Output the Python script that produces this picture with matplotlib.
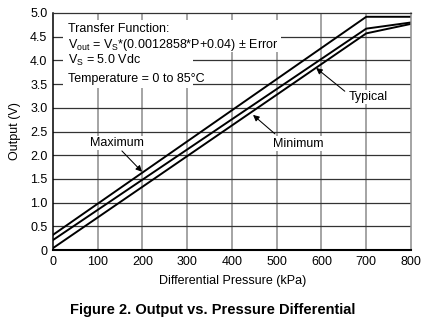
import numpy as np
import matplotlib.pyplot as plt
from matplotlib.patches import Rectangle

plt.rcParams['font.family'] = ['Liberation Sans Narrow', 'Liberation Sans', 'DejaVu Sans']
plt.rcParams['mathtext.fontset'] = 'custom'
plt.rcParams['mathtext.rm'] = 'Liberation Sans'
plt.rcParams['mathtext.it'] = 'Liberation Sans'

# output curves (kPa, V), transfer function plus/minus error band
pressure = [0, 700, 800]
v_max = [0.32, 4.92, 4.92]
v_typ = [0.21, 4.67, 4.80]
v_min = [0.04, 4.57, 4.77]

xticks = [0, 100, 200, 300, 400, 500, 600, 700, 800]
yticks = [0, 0.5, 1.0, 1.5, 2.0, 2.5, 3.0, 3.5, 4.0, 4.5, 5.0]
ytick_labels = ['0', '0.5', '1.0', '1.5', '2.0', '2.5', '3.0', '3.5', '4.0', '4.5', '5.0']

info_lines = ['Transfer Function:',
              r'V$_{\mathrm{out}}$ = V$_{\mathrm{S}}$*(0.0012858*P+0.04) ± Error',
              r'V$_{\mathrm{S}}$ = 5.0 Vdc',
              'Temperature = 0 to 85°C']
info_y = [4.66, 4.33, 3.99, 3.61]

fig = plt.figure(figsize=(4.34, 3.29), dpi=100)
ax = fig.add_axes([0.1221, 0.2401, 0.8249, 0.7204])

# grid drawn by hand: grey verticals, dark horizontals
for x in xticks[1:-1]:
    ax.axvline(x, color='#8c8c8c', lw=1.1, zorder=1)
for y in yticks[1:-1]:
    ax.axhline(y, color='#333333', lw=0.9, zorder=1)

# white area behind the transfer function text
ax.add_patch(Rectangle((22, 4.18), 487, 0.67, facecolor='white', edgecolor='none', zorder=2))
ax.add_patch(Rectangle((22, 3.42), 291, 0.76, facecolor='white', edgecolor='none', zorder=2))

for yv, s in zip(info_y, info_lines):
    ax.text(33.5, yv, s, fontsize=9, va='center', ha='left', zorder=5)

ax.plot(pressure, v_max, color='black', lw=1.4, zorder=3, solid_joinstyle='miter')
ax.plot(pressure, v_typ, color='black', lw=1.4, zorder=3, solid_joinstyle='miter')
ax.plot(pressure, v_min, color='black', lw=1.4, zorder=3, solid_joinstyle='miter')

arrow = dict(arrowstyle='-|>', color='black', lw=0.75, mutation_scale=9, shrinkA=0, shrinkB=0)
box = dict(facecolor='white', edgecolor='none', pad=1)
ax.annotate('', xy=(199, 1.65), xytext=(154, 2.09), arrowprops=arrow, zorder=4)
ax.text(144, 2.26, 'Maximum', fontsize=9, ha='center', va='center', bbox=box, zorder=5)
ax.annotate('', xy=(447, 2.85), xytext=(496, 2.45), arrowprops=arrow, zorder=4)
ax.text(549, 2.24, 'Minimum', fontsize=9, ha='center', va='center', bbox=box, zorder=5)
ax.annotate('', xy=(588, 3.84), xytext=(652, 3.35), arrowprops=arrow, zorder=4)
ax.text(705, 3.23, 'Typical', fontsize=9, ha='center', va='center', bbox=box, zorder=5)

ax.set_xlim(0, 800)
ax.set_ylim(0, 5.0)
ax.set_xticks(xticks)
ax.set_yticks(yticks)
ax.set_yticklabels(ytick_labels)
ax.tick_params(length=0, labelsize=9, colors='black')
ax.tick_params(axis='y', pad=4)
ax.tick_params(axis='x', pad=4)

ax.spines['left'].set_linewidth(1.1)
ax.spines['bottom'].set_linewidth(1.5)
ax.spines['top'].set_linewidth(0.9)
ax.spines['top'].set_color('#333333')
ax.spines['right'].set_linewidth(1.1)
ax.spines['right'].set_color('#8c8c8c')
for sp in ax.spines.values():
    sp.set_zorder(6)

fig.text(233 / 434, 1 - 281 / 329, 'Differential Pressure (kPa)', fontsize=9, ha='center', va='center')
fig.text(15 / 434, 1 - 131 / 329, 'Output (V)', fontsize=9, ha='center', va='center', rotation=90)
fig.text(213 / 434, 1 - 310 / 329, 'Figure 2. Output vs. Pressure Differential',
         fontsize=10.5, fontweight='bold', ha='center', va='center',
         family=['Liberation Sans', 'DejaVu Sans'])

fig.savefig('out.png', dpi=100)
